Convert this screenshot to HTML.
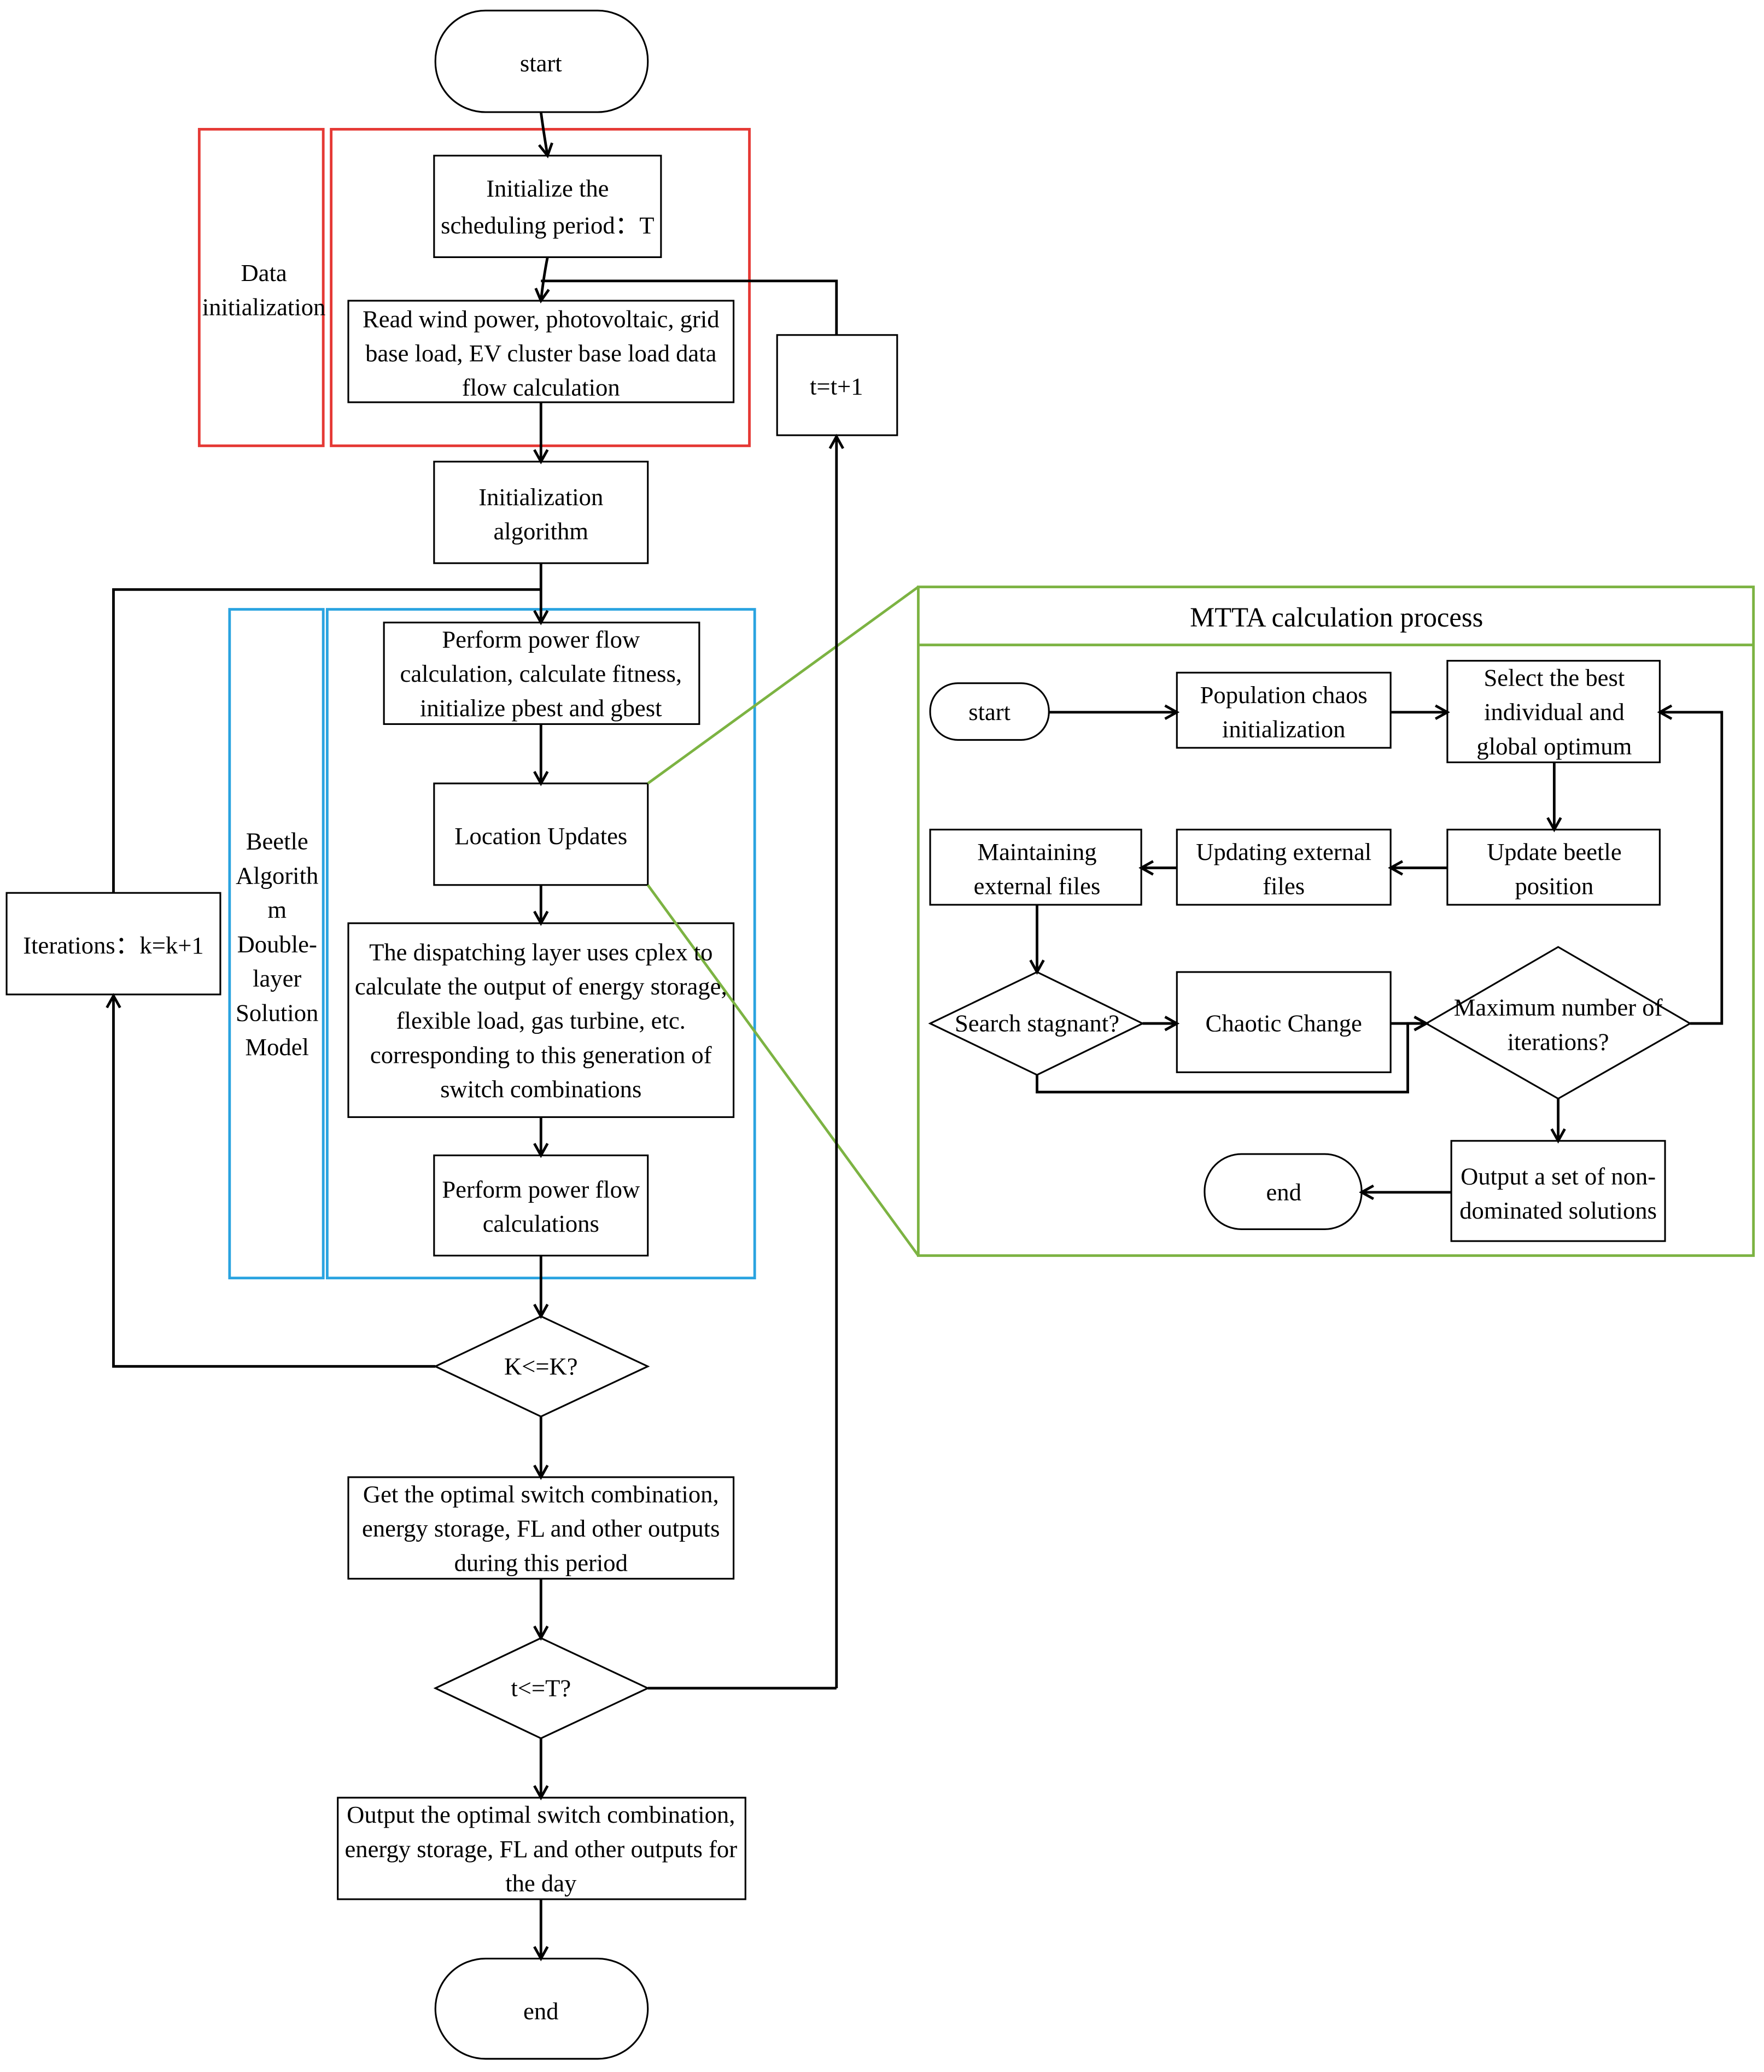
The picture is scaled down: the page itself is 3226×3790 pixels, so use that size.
<!DOCTYPE html>
<html><head><meta charset="utf-8"><style>
html,body{margin:0;padding:0;background:#fff;}
svg{display:block;}
text{font-family:"Liberation Serif",serif;font-size:18.5px;fill:#000;text-anchor:middle;}
</style></head><body>
<svg width="3226" height="3790" viewBox="0 0 1337 1571" preserveAspectRatio="none" xmlns="http://www.w3.org/2000/svg">
<defs>
<marker id="a" markerWidth="12" markerHeight="12" refX="10" refY="6" orient="auto" markerUnits="userSpaceOnUse">
<path d="M1,1 L10,6 L1,11" fill="none" stroke="#000" stroke-width="2"/>
</marker>
</defs>
<g fill="none" stroke="#000" stroke-width="1.3">
<rect x="330" y="8" width="161" height="77" rx="38"/>
<rect x="329" y="118" width="172" height="77"/>
<rect x="264" y="228" width="292" height="77"/>
<rect x="589" y="254" width="91" height="76"/>
<rect x="329" y="350" width="162" height="77"/>
<rect x="291" y="472" width="239" height="77"/>
<rect x="329" y="594" width="162" height="77"/>
<rect x="264" y="700" width="292" height="147"/>
<rect x="329" y="876" width="162" height="76"/>
<rect x="5" y="677" width="162" height="77"/>
<polygon points="330,1036 410,998 491,1036 410,1074"/>
<rect x="264" y="1120" width="292" height="77"/>
<polygon points="330,1280 410,1242 491,1280 410,1318"/>
<rect x="256" y="1363" width="309" height="77"/>
<rect x="330" y="1485" width="161" height="76" rx="38"/>
<!-- inner -->
<rect x="705" y="518" width="90" height="43" rx="21"/>
<rect x="892" y="510" width="162" height="57"/>
<rect x="1097" y="501" width="161" height="77"/>
<rect x="1097" y="629" width="161" height="57"/>
<rect x="892" y="629" width="162" height="57"/>
<rect x="705" y="629" width="160" height="57"/>
<polygon points="705,776 786,737 866,776 786,815"/>
<rect x="892" y="737" width="162" height="76"/>
<polygon points="1081,776 1181,718 1281,776 1181,833"/>
<rect x="1100" y="865" width="162" height="76"/>
<rect x="913" y="875" width="119" height="57" rx="28"/>
</g>
<g fill="none" stroke="#e53935" stroke-width="2">
<rect x="151" y="98" width="94" height="240"/>
<rect x="251" y="98" width="317" height="240"/>
</g>
<g fill="none" stroke="#29a3e0" stroke-width="2">
<rect x="174" y="462" width="71" height="507"/>
<rect x="248" y="462" width="324" height="507"/>
</g>
<g fill="none" stroke="#7cb342" stroke-width="2">
<rect x="696" y="445" width="633" height="507"/>
<line x1="696" y1="489" x2="1329" y2="489"/>
<line x1="491" y1="594" x2="696" y2="445"/>
<line x1="491" y1="671" x2="696" y2="952"/>
</g>
<g fill="none" stroke="#000" stroke-width="2" marker-end="url(#a)">
<path d="M410,85 Q412,100 415,118"/>
<path d="M415,195 Q412,210 410,228"/>
<path d="M410,213 H634 V254" marker-end="none"/>
<path d="M634,1280 V331"/>
<path d="M491,1280 H634" marker-end="none"/>
<path d="M410,305 V350"/>
<path d="M410,427 V472"/>
<path d="M86,677 V447 H410" marker-end="none"/>
<path d="M410,549 V594"/>
<path d="M410,671 V700"/>
<path d="M410,847 V876"/>
<path d="M410,952 V998"/>
<path d="M330,1036 H86 V755"/>
<path d="M410,1074 V1120"/>
<path d="M410,1197 V1242"/>
<path d="M410,1318 V1363"/>
<path d="M410,1440 V1485"/>
<path d="M795,540 H892"/>
<path d="M1054,540 H1097"/>
<path d="M1178,578 V629"/>
<path d="M1097,658 H1054"/>
<path d="M892,658 H865"/>
<path d="M786,686 V737"/>
<path d="M866,776 H892"/>
<path d="M1054,776 H1081"/>
<path d="M786,815 V828 H1067 V776 L1081,776"/>
<path d="M1281,776 H1305 V540 H1258"/>
<path d="M1181,833 V865"/>
<path d="M1100,904 H1032"/>
</g>
<text x="410" y="54">start</text>
<text x="200" y="213">Data</text>
<text x="200" y="239">initialization</text>
<text x="415" y="149">Initialize the</text>
<text x="415" y="177">scheduling period：T</text>
<text x="410" y="248">Read wind power, photovoltaic, grid</text>
<text x="410" y="274">base load, EV cluster base load data</text>
<text x="410" y="300">flow calculation</text>
<text x="634" y="299">t=t+1</text>
<text x="410" y="383">Initialization</text>
<text x="410" y="409">algorithm</text>
<text x="410" y="491">Perform power flow</text>
<text x="410" y="517">calculation, calculate fitness,</text>
<text x="410" y="543">initialize pbest and gbest</text>
<text x="410" y="640">Location Updates</text>
<text x="410" y="728">The dispatching layer uses cplex to</text>
<text x="410" y="754">calculate the output of energy storage,</text>
<text x="410" y="780">flexible load, gas turbine, etc.</text>
<text x="410" y="806">corresponding to this generation of</text>
<text x="410" y="832">switch combinations</text>
<text x="410" y="908">Perform power flow</text>
<text x="410" y="934">calculations</text>
<text x="86" y="723">Iterations：k=k+1</text>
<text x="210" y="644">Beetle</text>
<text x="210" y="670">Algorith</text>
<text x="210" y="696">m</text>
<text x="210" y="722">Double-</text>
<text x="210" y="748">layer</text>
<text x="210" y="774">Solution</text>
<text x="210" y="800">Model</text>
<text x="410" y="1042">K&lt;=K?</text>
<text x="410" y="1139">Get the optimal switch combination,</text>
<text x="410" y="1165">energy storage, FL and other outputs</text>
<text x="410" y="1191">during this period</text>
<text x="410" y="1286">t&lt;=T?</text>
<text x="410" y="1382">Output the optimal switch combination,</text>
<text x="410" y="1408">energy storage, FL and other outputs for</text>
<text x="410" y="1434">the day</text>
<text x="410" y="1531">end</text>
<text x="1013" y="475" style="font-size:21px">MTTA calculation process</text>
<text x="750" y="546">start</text>
<text x="973" y="533">Population chaos</text>
<text x="973" y="559">initialization</text>
<text x="1178" y="520">Select the best</text>
<text x="1178" y="546">individual and</text>
<text x="1178" y="572">global optimum</text>
<text x="1178" y="652">Update beetle</text>
<text x="1178" y="678">position</text>
<text x="973" y="652">Updating external</text>
<text x="973" y="678">files</text>
<text x="786" y="652">Maintaining</text>
<text x="786" y="678">external files</text>
<text x="786" y="782">Search stagnant?</text>
<text x="973" y="782">Chaotic Change</text>
<text x="1181" y="770">Maximum number of</text>
<text x="1181" y="796">iterations?</text>
<text x="1181" y="898">Output a set of non-</text>
<text x="1181" y="924">dominated solutions</text>
<text x="973" y="910">end</text>
</svg>
</body></html>
